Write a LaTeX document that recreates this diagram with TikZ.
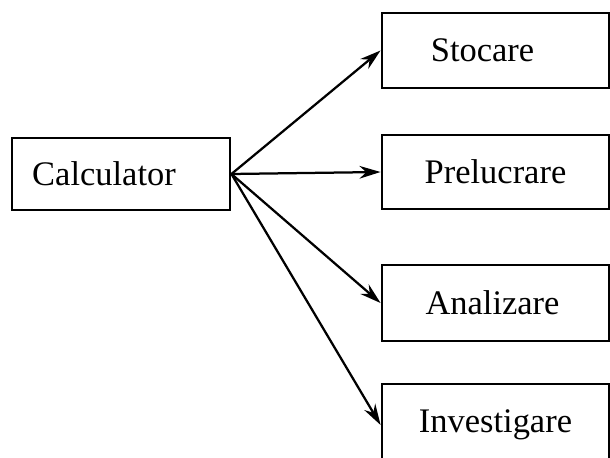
\documentclass[tikz,border=0pt]{standalone}
\usepackage{fontspec}
\setmainfont{Liberation Serif}
\usetikzlibrary{arrows.meta}

\tikzset{
  box/.style={draw, line width=2pt, inner sep=0pt,
    font=\fontsize{24.5}{28}\selectfont},
  arr/.style={line width=1.6pt, -{Stealth[length=15pt,width=9pt]}}
}

\begin{document}
\begin{tikzpicture}[x=0.025cm,y=-0.025cm]
\useasboundingbox (0,0) rectangle (610,458);

% left box
\node[box, minimum width=5.45cm, minimum height=1.8cm] (calc) at (121,174) {Calculator\hspace*{0.85cm}};

% boxes on the right, the last one runs off the bottom
\node[box, minimum width=5.675cm, minimum height=1.875cm] (stoc) at (495.5,50.5) {Stocare\hspace*{0.65cm}};
\node[box, minimum width=5.675cm, minimum height=1.85cm] (prel) at (495.5,172) {Prelucrare};
\node[box, minimum width=5.675cm, minimum height=1.9cm] (anal) at (495.5,303) {Analizare\hspace*{0.15cm}};
\node[box, minimum width=5.675cm, minimum height=2.05cm] (inv) at (495.5,425) {Investigare};

\draw[arr] (calc.east) -- (stoc.west);
\draw[arr] (calc.east) -- (prel.west);
\draw[arr] (calc.east) -- (anal.west);
\draw[arr] (calc.east) -- (inv.west);

\end{tikzpicture}
\end{document}
